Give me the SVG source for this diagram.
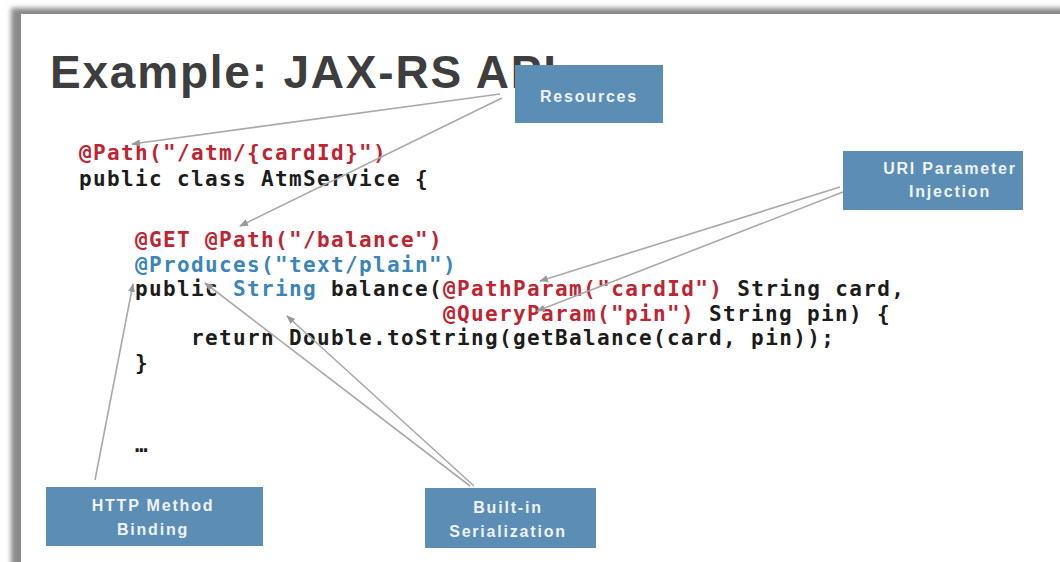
<svg xmlns="http://www.w3.org/2000/svg" width="1060" height="562" viewBox="0 0 1060 562">
<defs>
<filter id="blur" x="-5%" y="-5%" width="110%" height="110%"><feGaussianBlur stdDeviation="2.5"/></filter>
<marker id="arr" markerWidth="9" markerHeight="7" refX="8" refY="3.5" orient="auto" markerUnits="userSpaceOnUse"><path d="M0,0 L9,3.5 L0,7 z" fill="#9a9a9a"/></marker>
<style>
.box{fill:#5b8db5}
.bt{font-family:"Liberation Sans",Arial,sans-serif;font-weight:bold;font-size:16px;fill:#eef3f7;text-anchor:middle;letter-spacing:1.8px}
.code{font-family:"DejaVu Sans Mono","Liberation Mono",monospace;font-weight:bold;font-size:21px;letter-spacing:1.36px;fill:#1c1c1c}
.r{fill:#be2431}
.b{fill:#3a86b9}
.k{fill:#1c1c1c}
.con line{stroke:#a9a9a9;stroke-width:1.6;marker-end:url(#arr)}
</style>
</defs>
<rect x="0" y="0" width="1060" height="562" fill="#ffffff"/>
<rect x="11" y="8" width="1070" height="580" fill="#8a8a8a" filter="url(#blur)"/>
<rect x="21" y="14" width="1050" height="560" fill="#ffffff"/>

<text x="50" y="88" font-family="'Liberation Sans',Arial,sans-serif" font-weight="bold" font-size="46" fill="#3e3e3e" textLength="506" lengthAdjust="spacing">Example: JAX-RS API</text>

<g id="code" class="code">
<text x="79" y="160" class="r">@Path("/atm/{cardId}")</text>
<text x="79" y="186">public class AtmService {</text>
<text x="135" y="247" class="r">@GET @Path("/balance")</text>
<text x="135" y="271.6" class="b">@Produces("text/plain")</text>
<text x="135" y="296.2"><tspan class="k">public </tspan><tspan class="b">String</tspan><tspan class="k"> balance(</tspan><tspan class="r">@PathParam("cardId")</tspan><tspan class="k"> String card,</tspan></text>
<text x="443" y="320.8"><tspan class="r">@QueryParam("pin")</tspan><tspan class="k"> String pin) {</tspan></text>
<text x="191" y="345.4">return Double.toString(getBalance(card, pin));</text>
<text x="135" y="370">}</text>
<text x="135" y="452">…</text>
</g>

<g id="connectors" class="con">
<line x1="500" y1="94" x2="132" y2="144"/>
<line x1="502" y1="98" x2="240" y2="226"/>
<line x1="840" y1="187" x2="540" y2="281"/>
<line x1="843" y1="192" x2="537" y2="311"/>
<line x1="95" y1="480" x2="133" y2="284"/>
<line x1="470" y1="486" x2="205" y2="283"/>
<line x1="474" y1="486" x2="287" y2="316"/>
</g>

<g id="resources">
<rect class="box" x="515" y="65" width="148" height="58"/>
<text class="bt" x="589" y="102">Resources</text>
</g>
<g id="uri-parameter-injection">
<rect class="box" x="843" y="151" width="180" height="59"/>
<text class="bt" x="950" y="174">URI Parameter</text>
<text class="bt" x="950" y="197">Injection</text>
</g>
<g id="http-method-binding">
<rect class="box" x="46" y="487" width="217" height="59"/>
<text class="bt" x="153" y="511">HTTP Method</text>
<text class="bt" x="153" y="535">Binding</text>
</g>
<g id="built-in-serialization">
<rect class="box" x="425" y="488" width="171" height="60"/>
<text class="bt" x="508" y="513">Built-in</text>
<text class="bt" x="508" y="537">Serialization</text>
</g>
</svg>
